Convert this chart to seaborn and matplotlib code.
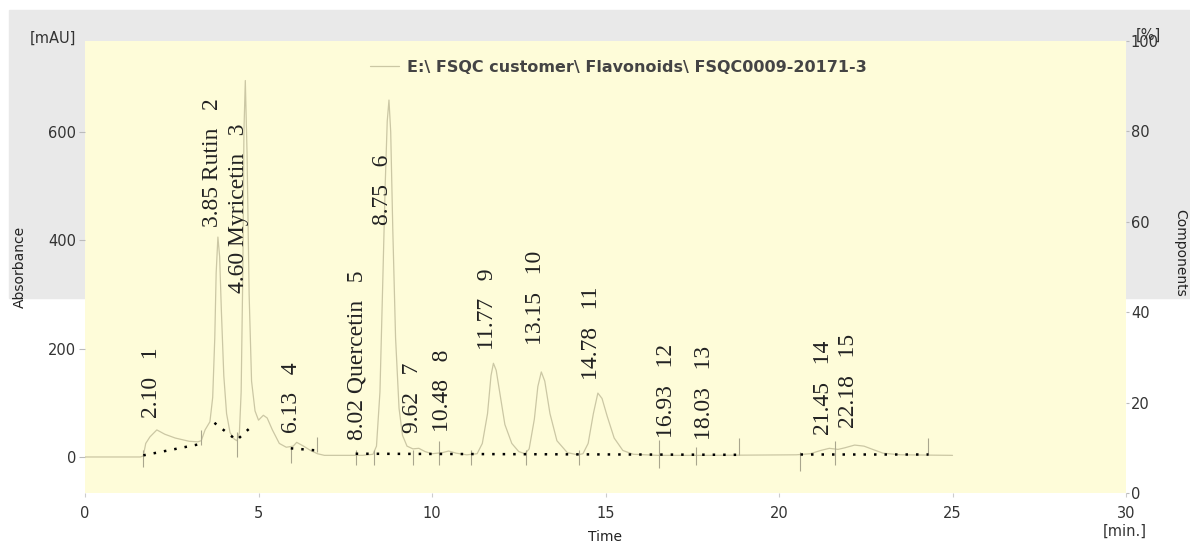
import matplotlib
matplotlib.use("Agg")
import matplotlib.pyplot as plt
from matplotlib.patches import Rectangle
import seaborn as sns
import pandas as pd

# ---------------- data ----------------
time_min = [0.00, 1.60, 1.68, 1.75, 1.87, 2.07, 2.30, 2.60, 3.00, 3.25,
            3.35, 3.46, 3.60, 3.68, 3.74, 3.78, 3.83, 3.88, 3.93, 4.00,
            4.08, 4.18, 4.30, 4.38, 4.45, 4.50, 4.55, 4.58, 4.62, 4.67,
            4.73, 4.80, 4.90, 5.00, 5.14, 5.25, 5.40, 5.60, 5.80, 6.00,
            6.10, 6.30, 6.50, 6.70, 6.90, 7.50, 8.00, 8.30, 8.40, 8.50,
            8.58, 8.65, 8.71, 8.76, 8.81, 8.87, 8.95, 9.05, 9.15, 9.28,
            9.45, 9.62, 9.80, 10.00, 10.30, 10.48, 10.70, 11.00, 11.30, 11.45,
            11.60, 11.70, 11.77, 11.85, 11.95, 12.10, 12.30, 12.50, 12.68, 12.80,
            12.95, 13.05, 13.15, 13.25, 13.40, 13.60, 13.90, 14.20, 14.35, 14.50,
            14.65, 14.78, 14.90, 15.05, 15.25, 15.50, 15.80, 16.50, 18.00, 20.50,
            20.90, 21.20, 21.45, 21.70, 21.90, 22.18, 22.45, 22.70, 23.00, 23.50,
            25.00]
absorbance = [0, 0, 2, 25, 37, 50, 42, 35, 29, 28,
              30, 50, 65, 110, 220, 340, 406, 370, 270, 150,
              80, 45, 33, 30, 45, 120, 350, 600, 695, 560,
              300, 140, 85, 68, 77, 72, 50, 25, 18, 20,
              27, 20, 12, 6, 3, 3, 3, 5, 20, 120,
              320, 500, 620, 659, 600, 420, 220, 90, 40, 20,
              15, 16, 10, 6, 8, 11, 7, 4, 6, 25,
              80, 150, 173, 160, 120, 60, 25, 10, 6, 15,
              70, 130, 157, 140, 80, 30, 8, 4, 6, 25,
              80, 118, 108, 75, 35, 12, 5, 3, 3, 4,
              6, 12, 16, 14, 17, 22, 20, 14, 7, 4,
              3]

peak_rt = [2.10, 3.85, 4.60, 6.13, 8.02, 8.75, 9.62, 10.48, 11.77, 13.15,
           14.78, 16.93, 18.03, 21.45, 22.18]
peak_name = ["", "Rutin", "Myricetin", "", "Quercetin", "", "", "", "", "",
             "", "", "", "", ""]
peak_no = list(range(1, 16))
label_base = [72, 424, 303, 44, 31, 428, 44, 46, 197, 206,
              142, 35, 31, 41, 53]

# integration baselines (dotted) and peak delimiters
baseline_segments = [
    [(1.68, 3), (3.33, 24)],
    [(3.73, 63), (4.37, 31), (4.76, 54)],
    [(5.93, 16), (6.69, 12)],
    [(7.80, 6), (18.85, 4)],
    [(20.60, 5), (24.30, 5)],
]
delim_t = [1.68, 3.33, 4.37, 5.93, 6.69, 7.80, 8.32, 9.45, 10.20, 11.13,
           12.70, 14.25, 16.55, 17.60, 18.85, 20.60, 21.60, 24.30]
delim_lo = [-18, 22, 0, -11, 9, -15, -15, -15, -15, -15,
            -15, -15, -20, -15, 4, -25, -15, 4]
delim_hi = [13, 50, 46, 17, 37, 13, 13, 13, 30, 13,
            13, 13, 31, 18, 35, 10, 30, 35]

x_ticks = [0, 5, 10, 15, 20, 25, 30]
y_ticks = [0, 200, 400, 600]
pct_ticks = [0, 20, 40, 60, 80, 100]
legend_label = "E:\\ FSQC customer\\ Flavonoids\\ FSQC0009-20171-3"

# ---------------- figure ----------------
sns.set_theme(style="white")
plt.rcParams["font.family"] = ["DejaVu Sans"]

W, H = 1190, 546
fig = plt.figure(figsize=(W / 100, H / 100), dpi=100, facecolor="white")
fig.patches.append(Rectangle((9 / W, 1 - 298 / H), 1 - 9 / W, (298 - 10) / H,
                             transform=fig.transFigure, color="#e9e9e9", zorder=-5))

left, right, top, bottom = 85, 1126, 41, 493
ax = fig.add_axes([left / W, 1 - bottom / H, (right - left) / W, (bottom - top) / H])
ax.set_facecolor("#fefcd9")

trace_color = "#cbc7a4"
df = pd.DataFrame({"Time": time_min, "Absorbance": absorbance})
sns.lineplot(data=df, x="Time", y="Absorbance", ax=ax, color=trace_color,
             linewidth=0.9, label=legend_label, estimator=None, sort=False)

for seg in baseline_segments:
    xs = [p[0] for p in seg]
    ys = [p[1] for p in seg]
    ax.plot(xs, ys, color="black", linestyle=(0, (1, 3.2)), linewidth=1.8, zorder=3)
ax.vlines(delim_t, delim_lo, delim_hi, color="#a9a68e", linewidth=0.8, zorder=2)

for rt, name, no, yb in zip(peak_rt, peak_name, peak_no, label_base):
    txt = f"{rt:.2f} {name}   {no}" if name else f"{rt:.2f}   {no}"
    ax.text(rt - 0.17, yb, txt, rotation=90, ha="center", va="bottom",
            fontsize=17, family="Liberation Serif", color="#222222", zorder=4)

ax.set_xlim(0, 30)
ax.set_ylim(-66.5, 768)
ax.set_xticks(x_ticks)
ax.set_yticks(y_ticks)
for s in ax.spines.values():
    s.set_visible(False)
ax.tick_params(axis="x", direction="out", length=3, width=0.8, color="#cccccc",
               pad=6, labelsize=10.5, labelcolor="#333333", bottom=True)
ax.tick_params(axis="y", direction="out", length=4.5, width=0.8, color="#bbbbbb",
               pad=2, labelsize=10.5, labelcolor="#333333", left=True)

ax.set_xlabel("Time", fontsize=10, color="#222222")
ax.xaxis.set_label_coords(0.5, -0.082)
ax.set_ylabel("Absorbance", fontsize=10, color="#222222")
ax.yaxis.set_label_coords(-0.0557, 0.5)

leg = ax.legend(loc="center left", bbox_to_anchor=((370 - left) / (right - left), 1 - (67 - top) / (bottom - top)),
                frameon=False, borderpad=0, borderaxespad=0, handlelength=1.8,
                handletextpad=0.5, prop={"size": 11.5, "weight": "bold"})
for t in leg.get_texts():
    t.set_color("#444444")

ax2 = ax.twinx()
ax2.set_ylim(0, 100)
ax2.set_yticks(pct_ticks)
for s in ax2.spines.values():
    s.set_visible(False)
ax2.tick_params(axis="y", direction="out", length=2.5, width=0.8, color="#bbbbbb",
                pad=1, labelsize=10.5, labelcolor="#333333", right=True)
ax2.grid(False)
ax.grid(False)
ax2.set_ylabel("Components", rotation=270, va="center", fontsize=10, color="#222222")
ax2.yaxis.set_label_coords((1180 - left) / (right - left), 0.531)

fig.text(53 / W, 1 - 38 / H, "[mAU]", ha="center", va="center", fontsize=10.5, color="#333333")
fig.text(1148 / W, 1 - 35 / H, "[%]", ha="center", va="center", fontsize=10.5, color="#333333")
fig.text(1125 / W, 1 - 531 / H, "[min.]", ha="center", va="center", fontsize=10.5, color="#333333")

fig.savefig("out.png", dpi=100, facecolor=fig.get_facecolor())
